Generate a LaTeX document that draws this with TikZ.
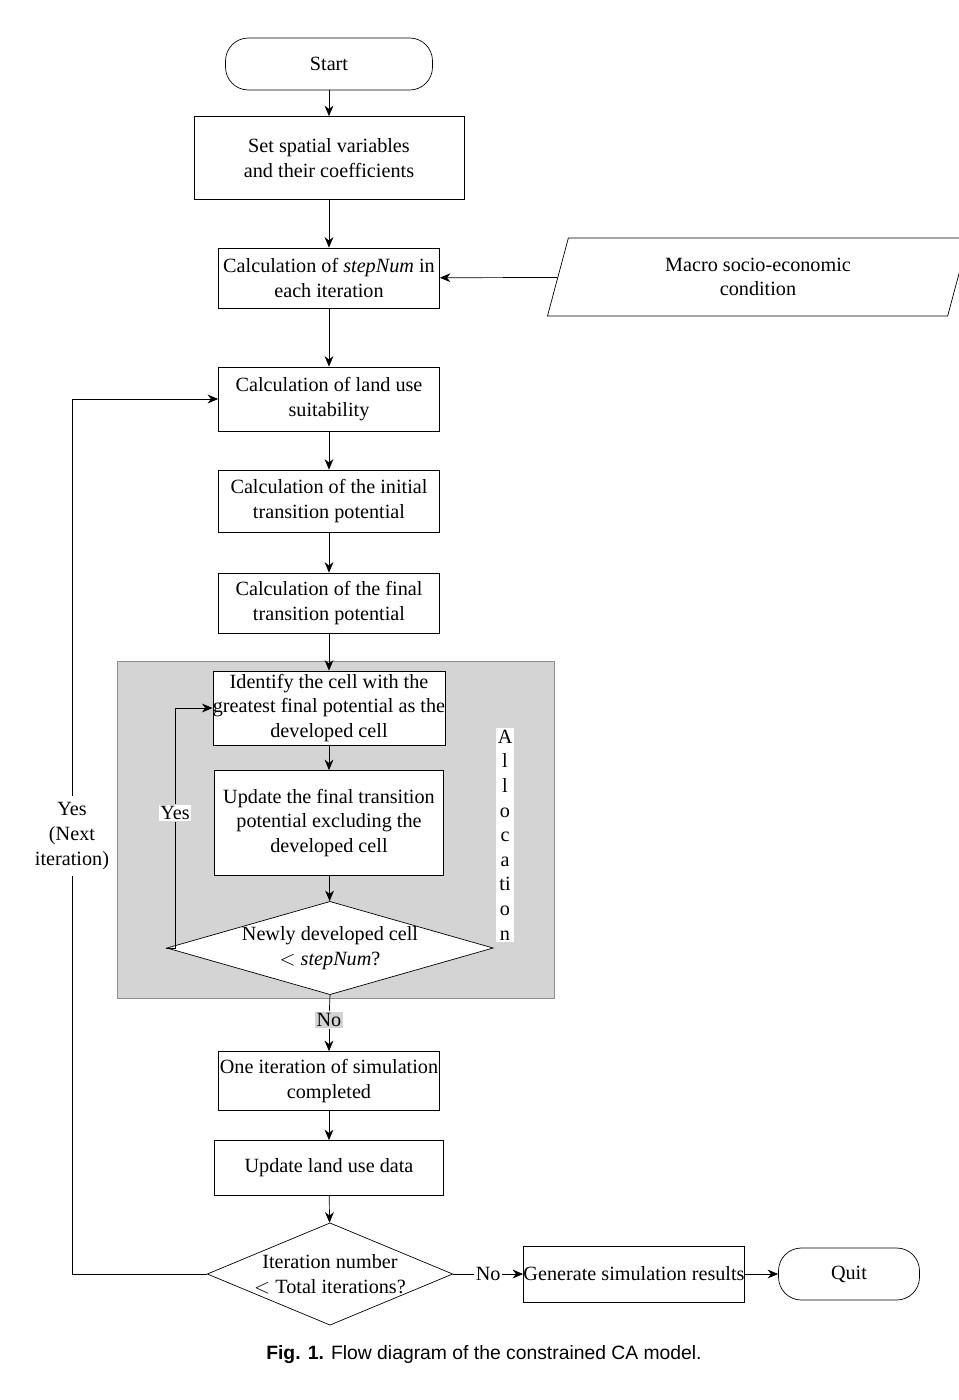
\documentclass[tikz,border=0pt]{standalone}
\usepackage{fontspec}
\setmainfont{Liberation Serif}
\newfontfamily\capfont{Liberation Sans}
\usetikzlibrary{shapes.geometric,arrows.meta}

\tikzset{
  box/.style={draw,rectangle,align=center,inner sep=0pt,font=\fontsize{11.5}{14}\selectfont},
  term/.style={box,rounded corners=13pt},
  dec/.style={draw,diamond,aspect=3.5,align=center,inner sep=0pt,font=\fontsize{11.5}{14}\selectfont},
  lbl/.style={align=center,font=\fontsize{11.5}{14}\selectfont},
  arr/.style={-{Stealth[length=6pt,width=5pt]}},
}

\begin{document}
\begin{tikzpicture}[x=0.02cm,y=-0.02cm]
\useasboundingbox (0,0) rectangle (959,1400);
% grey allocation area
\fill[black!17] (117,661) rectangle (554,998);
\draw[black!45] (117,661) rectangle (554,998);
% main chain
\node[term,minimum width=207*0.02cm,minimum height=52*0.02cm] (start) at (329,64) {Start};
\node[box,minimum width=270*0.02cm,minimum height=83*0.02cm] (set) at (329,158) {Set spatial variables\\and their coefficients};
\node[box,minimum width=221*0.02cm,minimum height=60*0.02cm] (step) at (329,278) {Calculation of \textit{stepNum} in\\each iteration};
\node[draw,trapezium,trapezium left angle=75,trapezium right angle=105,minimum width=316*0.02cm,minimum height=78*0.02cm,align=center,inner sep=0pt,font=\fontsize{11.5}{14}\selectfont] (macro) at (758,277) {Macro socio-economic\\condition};
\node[box,fill=white,minimum width=221*0.02cm,minimum height=64*0.02cm] (suit) at (329,399) {Calculation of land use\\suitability};
\node[box,minimum width=221*0.02cm,minimum height=62*0.02cm] (init) at (329,501) {Calculation of the initial\\transition potential};
\node[box,minimum width=221*0.02cm,minimum height=60*0.02cm] (final) at (329,603) {Calculation of the final\\transition potential};
\node[box,fill=white,minimum width=221*0.02cm,minimum height=74*0.02cm] (ident) at (329,708) {Identify the cell with the\\greatest final potential as the\\developed cell};
\node[box,fill=white,minimum width=229*0.02cm,minimum height=105*0.02cm] (upd) at (329,823) {Update the final transition\\potential excluding the\\developed cell};
\node[dec,fill=white,minimum width=280*0.02cm,minimum height=80*0.02cm] (newly) at (330,948) {Newly developed cell\\${<}$ \textit{stepNum}?};
\node[box,minimum width=221*0.02cm,minimum height=59*0.02cm] (one) at (329,1081) {One iteration of simulation\\completed};
\node[box,minimum width=229*0.02cm,minimum height=55*0.02cm] (land) at (329,1168) {Update land use data};
\node[dec,minimum width=220*0.02cm,minimum height=92*0.02cm,aspect=2.4] (iter) at (330,1274) {Iteration number\\${<}$ Total iterations?};
\node[box,minimum width=221*0.02cm,minimum height=56*0.02cm] (gen) at (634,1274) {Generate simulation results};
\node[term,minimum width=141*0.02cm,minimum height=52*0.02cm,rounded corners=13pt] (quit) at (849,1274) {Quit};
% labels
\node[lbl,fill=white,inner sep=1pt,align=center,text width=8pt] (alloc) at (505,835) {A\\l\\l\\o\\c\\a\\ti\\o\\n};
\node[lbl,fill=white,inner sep=1pt] (yes1) at (175,813) {Yes};
\node[lbl] (yes2) at (72,836) {Yes\\(Next\\iteration)};
\node[lbl,fill=black!17,inner sep=1pt] (no1) at (329,1020) {No};
\coordinate (l1) at (175,948);
\coordinate (l1t) at (175,708);
\coordinate (l2) at (72,1274);
\coordinate (l2t) at (72,399);
% connectors
\draw[arr] (start) -- (set);
\draw[arr] (set) -- (step);
\draw[arr] (macro) -- (step);
\draw[arr] (step) -- (suit);
\draw[arr] (suit) -- (init);
\draw[arr] (init) -- (final);
\draw[arr] (final) -- (ident);
\draw[arr] (ident) -- (upd);
\draw[arr] (upd) -- (newly);
\draw (newly.west) -- (l1) -- (yes1);
\draw[arr] (yes1) -- (l1t) -- (ident.west);
\draw (newly.south) -- (no1);
\draw[arr] (no1) -- (one);
\draw[arr] (one) -- (land);
\draw[arr] (land) -- (iter);
\draw (iter.west) -- (l2) -- (yes2);
\draw[arr] (yes2) -- (l2t) -- (suit.west);
\draw[arr] (iter.east) -- node[fill=white,inner sep=1pt,font=\fontsize{11.5}{14}\selectfont] (no2) {No} (gen);
\draw[arr] (gen) -- (quit);
% caption
\node[font=\capfont\fontsize{11}{13}\selectfont] (cap) at (484,1355) {\textbf{Fig. 1.} Flow diagram of the constrained CA model.};
\end{tikzpicture}
\end{document}
